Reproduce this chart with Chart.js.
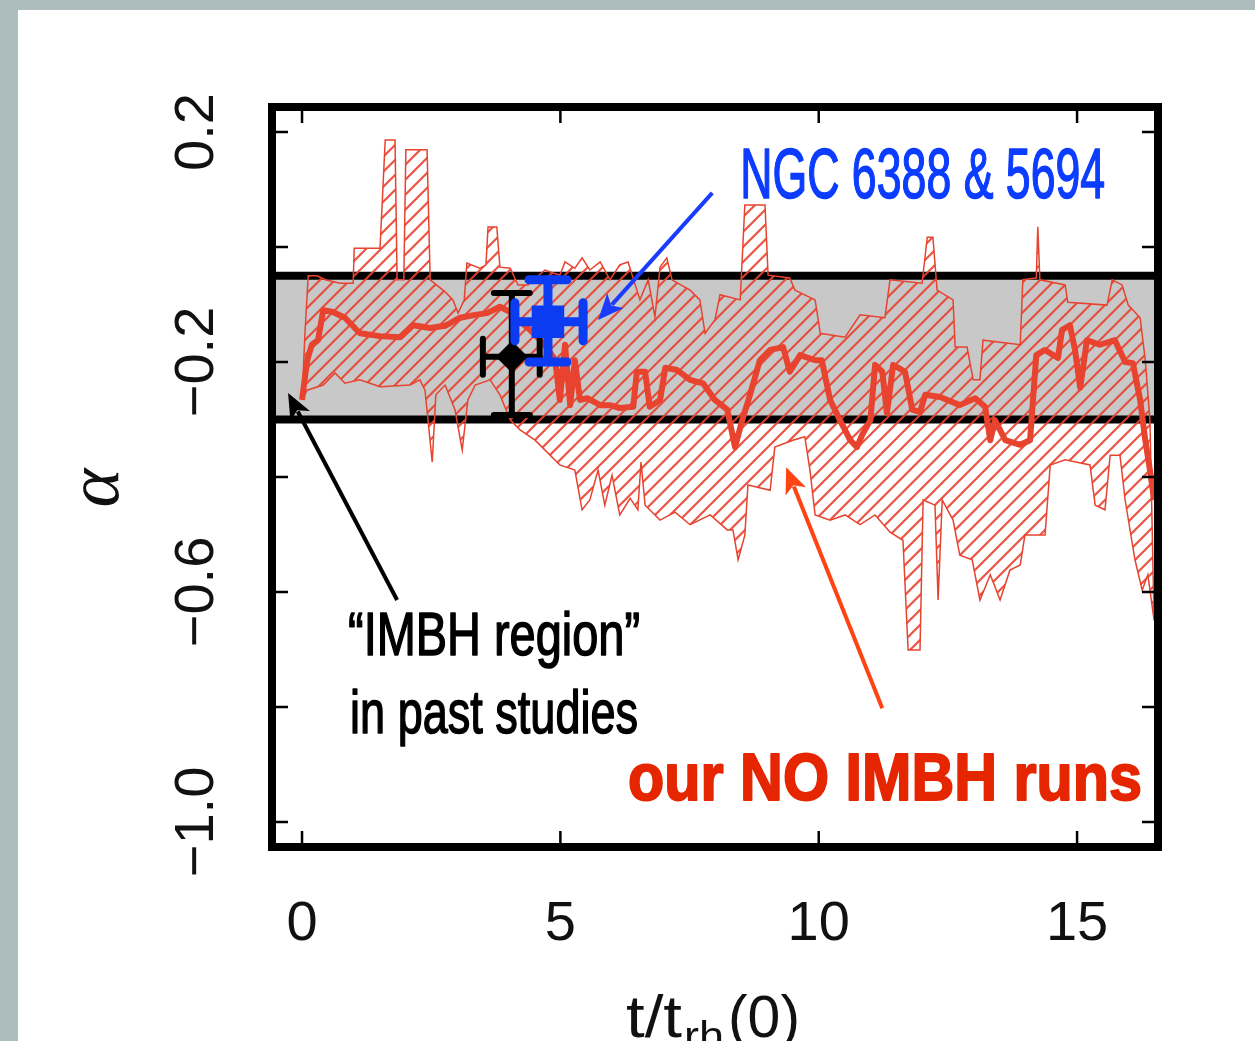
<!DOCTYPE html>
<html>
<head>
<meta charset="utf-8">
<script src="https://cdn.jsdelivr.net/npm/chart.js@4.4.1/dist/chart.umd.min.js"></script>
<style>
  html, body { margin: 0; padding: 0; background: #adbcbd; overflow: hidden; }
  #paper { position: absolute; left: 18px; top: 10px; width: 1237px; height: 1031px; background: #fff; }
  #chart { position: absolute; left: 0; top: 0; }
</style>
</head>
<body>
<div id="paper"></div>
<canvas id="chart" width="1255" height="1041"></canvas>
<script>
// axis ranges and tick labels
const xRange = [-0.581, 16.566];
const yRange = [-1.0435, 0.2435];
const xTicks = [0, 5, 10, 15];
const yTicks = [0.2, -0.2, -0.6, -1.0];
const yMinorTicks = [0.2, 0.0, -0.2, -0.4, -0.6, -0.8, -1.0];

// "IMBH region" band from earlier studies
const bandTop = -0.05;
const bandBottom = -0.30;

// upper envelope of the NO IMBH runs
const upperT = [0.00, 0.06, 0.12, 0.29, 0.45, 0.74, 0.99, 1.01, 1.51, 1.61, 1.80, 1.84, 1.97, 2.01, 2.42, 2.48, 2.77, 2.92, 3.02, 3.14,
  3.19, 3.44, 3.56, 3.60, 3.77, 3.83, 4.03, 4.18, 4.37, 4.70, 4.99, 5.09, 5.28, 5.42, 5.57, 5.77, 5.96, 6.15, 6.31, 6.54,
  6.70, 6.83, 6.93, 7.06, 7.16, 7.51, 7.70, 7.80, 7.99, 8.09, 8.48, 8.57, 8.96, 9.02, 9.44, 9.54, 9.93, 10.03, 10.51, 10.80,
  11.28, 11.38, 12.00, 12.10, 12.21, 12.29, 12.60, 12.64, 12.87, 12.99, 13.12, 13.18, 13.90, 13.95, 14.21, 14.24, 14.28, 14.77, 14.82, 15.58,
  15.68, 15.87, 15.99, 16.22, 16.32, 16.41, 16.49];
const upperA = [-0.266, -0.144, -0.050, -0.050, -0.057, -0.063, -0.063, -0.002, -0.002, 0.186, 0.186, -0.057, -0.057, 0.169, 0.169, -0.057, -0.078, -0.092, -0.115, -0.092,
  -0.028, -0.037, -0.031, 0.035, 0.035, -0.035, -0.037, -0.066, -0.066, -0.040, -0.049, -0.026, -0.037, -0.019, -0.040, -0.026, -0.057, -0.031, -0.026, -0.092,
  -0.057, -0.122, -0.035, -0.019, -0.057, -0.075, -0.092, -0.150, -0.127, -0.083, -0.092, 0.073, 0.073, -0.049, -0.054, -0.075, -0.092, -0.150, -0.157, -0.118,
  -0.123, -0.057, -0.063, 0.017, 0.017, -0.075, -0.092, -0.174, -0.174, -0.231, -0.231, -0.162, -0.170, -0.057, -0.054, 0.035, -0.057, -0.066, -0.096, -0.101,
  -0.057, -0.066, -0.101, -0.123, -0.197, -0.301, -0.649];

// lower envelope of the NO IMBH runs
const lowerT = [0.00, 0.10, 0.41, 0.64, 0.83, 1.12, 1.51, 2.09, 2.28, 2.38, 2.52, 2.59, 2.77, 2.96, 3.10, 3.21, 3.35, 3.64, 3.83, 4.03,
  4.22, 4.51, 4.80, 4.99, 5.28, 5.42, 5.57, 5.73, 5.86, 6.00, 6.15, 6.35, 6.50, 6.56, 6.64, 6.93, 7.22, 7.51, 7.90, 8.23,
  8.34, 8.44, 8.57, 8.63, 9.06, 9.15, 9.50, 9.73, 9.83, 9.93, 10.22, 10.51, 10.80, 11.09, 11.38, 11.63, 11.73, 11.96, 12.02, 12.25,
  12.31, 12.39, 12.60, 12.73, 12.97, 13.12, 13.32, 13.51, 13.70, 13.90, 13.99, 14.38, 14.48, 14.77, 15.25, 15.35, 15.54, 15.64, 15.83, 15.93,
  16.12, 16.26, 16.37, 16.49];
const lowerA = [-0.266, -0.249, -0.240, -0.219, -0.237, -0.231, -0.243, -0.240, -0.231, -0.249, -0.374, -0.257, -0.240, -0.283, -0.353, -0.266, -0.240, -0.231, -0.257, -0.301,
  -0.318, -0.336, -0.362, -0.379, -0.388, -0.457, -0.440, -0.388, -0.449, -0.397, -0.466, -0.437, -0.457, -0.374, -0.449, -0.475, -0.461, -0.483, -0.466, -0.492,
  -0.492, -0.544, -0.501, -0.414, -0.423, -0.348, -0.336, -0.330, -0.388, -0.466, -0.475, -0.466, -0.483, -0.466, -0.496, -0.510, -0.701, -0.701, -0.440, -0.449,
  -0.614, -0.440, -0.475, -0.536, -0.544, -0.614, -0.570, -0.614, -0.562, -0.553, -0.501, -0.501, -0.379, -0.370, -0.379, -0.449, -0.457, -0.362, -0.362, -0.440,
  -0.544, -0.597, -0.570, -0.649];

// median of the runs
const medT = [0.00, 0.10, 0.19, 0.31, 0.41, 0.60, 0.83, 1.12, 1.51, 1.90, 2.15, 2.48, 2.77, 3.06, 3.35, 3.58, 3.83, 4.03, 4.22, 4.41,
  4.70, 4.90, 4.99, 5.09, 5.19, 5.28, 5.38, 5.52, 5.77, 5.96, 6.15, 6.41, 6.48, 6.64, 6.73, 6.93, 7.03, 7.26, 7.51, 7.76,
  7.99, 8.23, 8.38, 8.52, 8.67, 8.86, 9.06, 9.31, 9.44, 9.64, 9.93, 10.06, 10.22, 10.41, 10.61, 10.74, 10.84, 11.00, 11.09, 11.23,
  11.32, 11.44, 11.67, 11.81, 11.96, 12.06, 12.35, 12.73, 13.03, 13.22, 13.32, 13.41, 13.61, 13.90, 14.09, 14.21, 14.38, 14.63, 14.71, 14.86,
  14.96, 15.06, 15.19, 15.44, 15.73, 15.93, 16.08, 16.22, 16.32, 16.41, 16.49];
const medA = [-0.266, -0.197, -0.170, -0.162, -0.110, -0.113, -0.123, -0.150, -0.155, -0.157, -0.136, -0.141, -0.137, -0.123, -0.118, -0.115, -0.104, -0.113, -0.130, -0.144,
  -0.170, -0.197, -0.266, -0.170, -0.275, -0.197, -0.266, -0.263, -0.275, -0.275, -0.280, -0.278, -0.217, -0.217, -0.278, -0.266, -0.210, -0.214, -0.231, -0.237,
  -0.266, -0.283, -0.348, -0.301, -0.257, -0.197, -0.179, -0.174, -0.217, -0.188, -0.197, -0.197, -0.266, -0.301, -0.336, -0.348, -0.327, -0.301, -0.205, -0.217,
  -0.289, -0.205, -0.217, -0.283, -0.287, -0.257, -0.261, -0.275, -0.263, -0.278, -0.336, -0.301, -0.336, -0.344, -0.336, -0.188, -0.179, -0.193, -0.144, -0.136,
  -0.179, -0.245, -0.162, -0.170, -0.162, -0.200, -0.202, -0.266, -0.336, -0.388, -0.440];

// observed clusters: [past-study point, NGC 6388 & 5694]
const obsT = [4.06, 4.76];
const obsA = [-0.191, -0.130];
const obsTLo = [3.50, 4.12];
const obsTHi = [4.60, 5.44];
const obsALo = [-0.292, -0.200];
const obsAHi = [-0.080, -0.057];

const RED = '#e8432f';
const BLUE = '#0b3cf2';

const pts = (xs, ys) => xs.map((x, i) => ({ x, y: ys[i] }));

// diagonal hatch like the original figure
function hatchPattern() {
  const s = 15;
  const c = document.createElement('canvas');
  c.width = s; c.height = s;
  const g = c.getContext('2d');
  g.strokeStyle = 'rgba(232,67,47,0.9)';
  g.lineWidth = 2.2;
  g.beginPath();
  g.moveTo(-s / 2, s / 2); g.lineTo(s / 2, -s / 2);
  g.moveTo(0, s); g.lineTo(s, 0);
  g.moveTo(s / 2, s * 1.5); g.lineTo(s * 1.5, s / 2);
  g.stroke();
  return document.getElementById('chart').getContext('2d').createPattern(c, 'repeat');
}

// text squeezed to a given width (the original uses a condensed face)
function fitText(ctx, text, x, y, font, width, color, thicken) {
  ctx.save();
  ctx.font = font;
  const w = ctx.measureText(text).width;
  ctx.translate(x, y);
  ctx.scale(width / w, 1);
  ctx.fillStyle = color;
  ctx.textAlign = 'left';
  ctx.textBaseline = 'alphabetic';
  ctx.fillText(text, 0, 0);
  if (thicken) {
    ctx.strokeStyle = color;
    ctx.lineWidth = thicken;
    ctx.lineJoin = 'round';
    ctx.strokeText(text, 0, 0);
  }
  ctx.restore();
}

function arrow(ctx, x1, y1, x2, y2, color) {
  const ang = Math.atan2(y2 - y1, x2 - x1);
  const hl = 26, hw = 11;
  ctx.save();
  ctx.strokeStyle = color;
  ctx.fillStyle = color;
  ctx.lineWidth = 4;
  ctx.beginPath();
  ctx.moveTo(x1, y1);
  ctx.lineTo(x2 - Math.cos(ang) * hl * 0.8, y2 - Math.sin(ang) * hl * 0.8);
  ctx.stroke();
  ctx.translate(x2, y2);
  ctx.rotate(ang);
  ctx.beginPath();
  ctx.moveTo(0, 0);
  ctx.lineTo(-hl, -hw);
  ctx.lineTo(-hl * 0.75, 0);
  ctx.lineTo(-hl, hw);
  ctx.closePath();
  ctx.fill();
  ctx.restore();
}

// annotations in data coordinates
const notes = [
  { from: [7.94, 0.094], to: [5.73, -0.127], color: '#1a3cff' },
  { from: [1.84, -0.614], to: [-0.27, -0.254], color: '#000' },
  { from: [11.23, -0.802], to: [9.37, -0.383], color: '#ff4414' }
];

const figurePlugin = {
  id: 'figure',
  beforeDraw(chart) {
    const { ctx, chartArea: a, scales: { y } } = chart;
    const y1 = y.getPixelForValue(bandTop), y2 = y.getPixelForValue(bandBottom);
    ctx.save();
    ctx.fillStyle = '#c8c8c8';
    ctx.fillRect(a.left, y1, a.right - a.left, y2 - y1);
    ctx.strokeStyle = '#000';
    ctx.lineWidth = 8;
    ctx.beginPath();
    ctx.moveTo(a.left, y1); ctx.lineTo(a.right, y1);
    ctx.moveTo(a.left, y2); ctx.lineTo(a.right, y2);
    ctx.stroke();
    ctx.restore();
  },
  beforeDatasetDraw(chart, args) {
    // error bars drawn just before their own marker
    const i = chart.data.datasets[args.index].obsIndex;
    if (i === undefined) return;
    const { ctx, scales: { x, y } } = chart;
    const cx = x.getPixelForValue(obsT[i]), cy = y.getPixelForValue(obsA[i]);
    const xl = x.getPixelForValue(obsTLo[i]), xr = x.getPixelForValue(obsTHi[i]);
    const yt = y.getPixelForValue(obsAHi[i]), yb = y.getPixelForValue(obsALo[i]);
    const color = i === 0 ? '#000' : BLUE;
    const lw = i === 0 ? 6 : 9;
    const cap = i === 0 ? 18 : 19;
    ctx.save();
    ctx.strokeStyle = color;
    ctx.lineWidth = lw;
    ctx.lineCap = 'round';
    ctx.beginPath();
    ctx.moveTo(cx, yt); ctx.lineTo(cx, yb);
    ctx.moveTo(xl, cy); ctx.lineTo(xr, cy);
    ctx.moveTo(cx - cap, yt); ctx.lineTo(cx + cap, yt);
    ctx.moveTo(cx - cap, yb); ctx.lineTo(cx + cap, yb);
    ctx.moveTo(xl, cy - cap); ctx.lineTo(xl, cy + cap);
    ctx.moveTo(xr, cy - cap); ctx.lineTo(xr, cy + cap);
    ctx.stroke();
    ctx.restore();
  },
  afterDraw(chart) {
    const { ctx, chartArea: a, scales: { x, y } } = chart;
    ctx.save();
    // inward ticks
    ctx.strokeStyle = '#000';
    ctx.lineWidth = 2.5;
    ctx.beginPath();
    xTicks.forEach(v => {
      const px = x.getPixelForValue(v);
      ctx.moveTo(px, a.top); ctx.lineTo(px, a.top + 16);
      ctx.moveTo(px, a.bottom); ctx.lineTo(px, a.bottom - 16);
    });
    yMinorTicks.forEach(v => {
      const py = y.getPixelForValue(v);
      ctx.moveTo(a.left, py); ctx.lineTo(a.left + 16, py);
      ctx.moveTo(a.right, py); ctx.lineTo(a.right - 16, py);
    });
    ctx.stroke();
    // frame
    ctx.lineWidth = 8;
    ctx.strokeRect(a.left, a.top, a.right - a.left, a.bottom - a.top);

    // tick labels
    ctx.fillStyle = '#111';
    ctx.font = '56px "Liberation Sans", Arial, sans-serif';
    ctx.textAlign = 'center';
    ctx.textBaseline = 'alphabetic';
    xTicks.forEach(v => ctx.fillText(String(v), x.getPixelForValue(v), 940));
    yTicks.forEach(v => {
      ctx.save();
      ctx.translate(213, y.getPixelForValue(v));
      ctx.rotate(-Math.PI / 2);
      ctx.fillText((v < 0 ? '\u2212' : '') + Math.abs(v).toFixed(1), 0, 0);
      ctx.restore();
    });

    // axis titles
    ctx.save();
    ctx.translate(118, 488);
    ctx.rotate(-Math.PI / 2);
    ctx.font = 'italic 74px "Liberation Serif", "DejaVu Serif", serif';
    ctx.fillText('\u03B1', 0, 0);
    ctx.restore();
    const fontT = '60px "Liberation Sans", Arial, sans-serif';
    fitText(ctx, 't/t', 626, 1037, fontT, 56, '#111');
    fitText(ctx, 'rh', 684, 1050, '40px "Liberation Sans", Arial, sans-serif', 40, '#111');
    fitText(ctx, '(0)', 728, 1037, fontT, 72, '#111');

    // annotations
    notes.forEach(n => arrow(ctx,
      x.getPixelForValue(n.from[0]), y.getPixelForValue(n.from[1]),
      x.getPixelForValue(n.to[0]), y.getPixelForValue(n.to[1]), n.color));
    fitText(ctx, 'NGC 6388 & 5694', x.getPixelForValue(8.48), y.getPixelForValue(0.085),
      '71px "Liberation Sans", Arial, sans-serif', 365, '#0b3cff', 1.5);
    fitText(ctx, '\u201CIMBH region\u201D', x.getPixelForValue(0.89), y.getPixelForValue(-0.710),
      '61px "Liberation Sans", Arial, sans-serif', 292, '#000', 1.5);
    fitText(ctx, 'in past studies', x.getPixelForValue(0.93), y.getPixelForValue(-0.845),
      '61px "Liberation Sans", Arial, sans-serif', 288, '#000', 1.5);
    fitText(ctx, 'our NO IMBH runs', x.getPixelForValue(6.31), y.getPixelForValue(-0.962),
      'bold 67px "Liberation Sans", Arial, sans-serif', 514, '#e52600', 2);
    ctx.restore();
  }
};

const ctx = document.getElementById('chart').getContext('2d');
new Chart(ctx, {
  type: 'line',
  data: {
    datasets: [
      { data: pts([obsT[1]], [obsA[1]]), obsIndex: 1, showLine: false, pointStyle: 'rect',
        pointRadius: 23, backgroundColor: BLUE, borderColor: BLUE, borderWidth: 0 },
      { data: pts([obsT[0]], [obsA[0]]), obsIndex: 0, showLine: false, pointStyle: 'rectRot',
        pointRadius: 16, backgroundColor: '#000', borderColor: '#000', borderWidth: 0 },
      { data: pts(medT, medA), borderColor: RED, borderWidth: 6, pointRadius: 0, fill: false,
        borderJoinStyle: 'round', tension: 0 },
      { data: pts(lowerT, lowerA), borderColor: RED, borderWidth: 1.5, pointRadius: 0, fill: false, tension: 0 },
      { data: pts(upperT, upperA), borderColor: RED, borderWidth: 1.5, pointRadius: 0, tension: 0,
        fill: '-1', backgroundColor: hatchPattern() }
    ]
  },
  options: {
    responsive: false,
    animation: false,
    devicePixelRatio: 1,
    layout: { padding: { left: 272, top: 107, right: 97, bottom: 194 } },
    plugins: { legend: { display: false }, tooltip: { enabled: false } },
    scales: {
      x: { type: 'linear', min: xRange[0], max: xRange[1], display: false },
      y: { type: 'linear', min: yRange[0], max: yRange[1], display: false }
    }
  },
  plugins: [figurePlugin]
});
</script>
</body>
</html>
